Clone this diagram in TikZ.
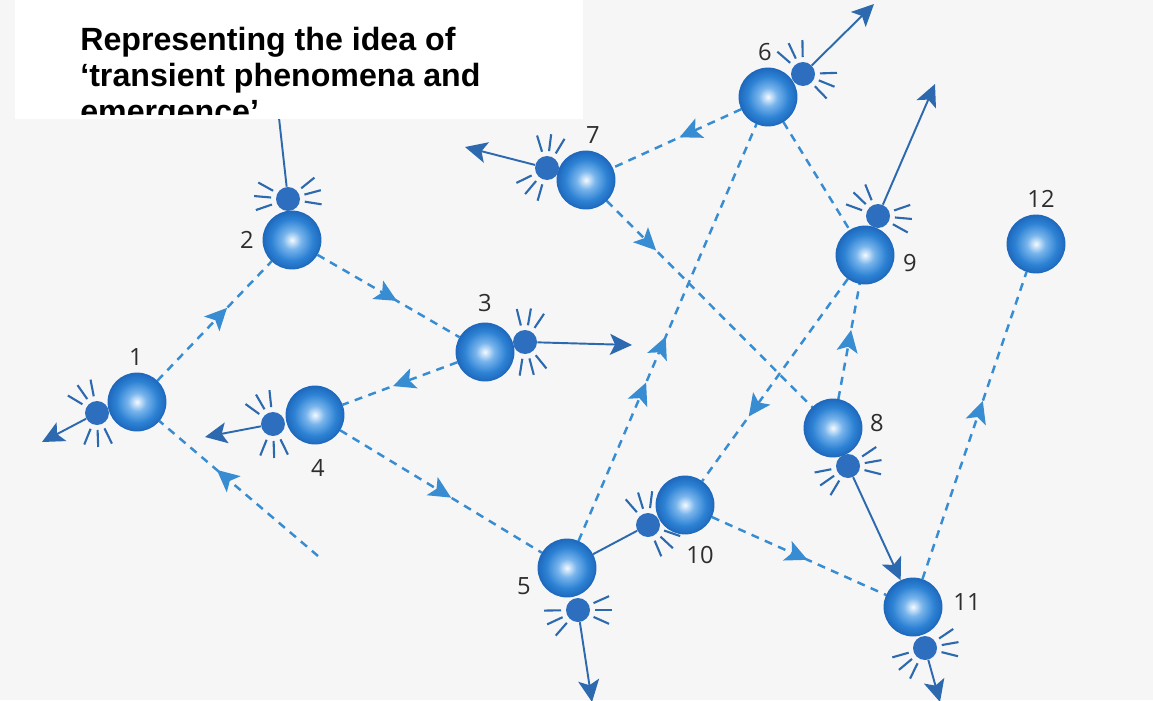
\documentclass[tikz,border=0pt]{standalone}
\usepackage{fontspec}
\newfontfamily\titlefont{Liberation Sans}
\newfontfamily\numfont{Open Sans}
\usetikzlibrary{arrows.meta,decorations.markings}
\pgfdeclarelayer{bg}
\pgfsetlayers{bg,main}

\definecolor{paper}{RGB}{246,246,246}
\definecolor{sphin}{RGB}{245,250,255}
\definecolor{sphmid}{RGB}{120,180,236}
\definecolor{sphout}{RGB}{45,130,212}
\definecolor{sphrim}{RGB}{30,105,190}
\definecolor{dotblue}{RGB}{45,110,190}
\definecolor{flowblue}{RGB}{55,140,210}
\definecolor{beamblue}{RGB}{45,105,175}
\definecolor{numgray}{RGB}{45,45,45}

\pgfdeclareradialshading{sphereshade}{\pgfpoint{0bp}{0bp}}{color(0bp)=(sphin); color(8bp)=(sphmid); color(18bp)=(sphout); color(25bp)=(sphrim); color(50bp)=(sphrim)}

% three short rays round a satellite, centred on a direction (degrees, y up)
\newcommand\sparks[2]{%
  \foreach \da in {-24,0,24}{
    \draw[ray,shift={(#1)}] ({-(#2)-\da}:17) -- ({-(#2)-\da}:34);
  }}

\begin{document}
\begin{tikzpicture}[x=0.02cm,y=-0.02cm,>={Stealth[length=0.44cm,width=0.42cm,inset=0.1cm]},
  sphere/.style={circle,minimum size=1.16cm,inner sep=0,shading=sphereshade,draw=sphrim,line width=0.5pt},
  dot/.style={circle,minimum size=0.48cm,inner sep=0,fill=dotblue},
  num/.style={font=\numfont\fontsize{13.5}{14}\selectfont,text=numgray,inner sep=0},
  title/.style={font=\titlefont\bfseries\fontsize{18.3}{20.5}\selectfont,align=left,inner sep=0},
  flow/.style={flowblue,line width=1.4pt,dash pattern=on 0.16cm off 0.13cm},
  flowat/.style={postaction={decorate},decoration={markings,mark=at position #1 with {\arrow{>}}}},
  flowtwo/.style 2 args={postaction={decorate},decoration={markings,
    mark=at position #1 with {\arrow{>}},mark=at position #2 with {\arrow{>}}}},
  beam/.style={beamblue,line width=1.1pt},
  ray/.style={beamblue,line width=1.2pt}]
  \useasboundingbox (0,0) rectangle (1153,700);

  % particles
  \foreach \k/\x/\y in {1/137/402,2/292/240,3/485/352,4/315/415,5/567/568,6/768/97,
      7/586/180,8/833/428,9/865/255,10/685/505,11/913/607,12/1036/244}
    \node[sphere] (s\k) at (\x,\y) {};
  \foreach \k/\x/\y in {1/97/413,2/288/199,3/525/342,4/273/424,5/578/610,6/803/74,
      7/547/168,8/848/466,9/878/216,10/648/525,11/925/648}
    \node[dot] (d\k) at (\x,\y) {};
  \foreach \k/\x/\y in {1/136/357,2/247/240,3/485/303,4/318/468,5/524/586,6/765/52,
      7/593/135,8/877/423,9/910/263,10/700/555,11/967/602,12/1041/199}
    \node[num] (l\k) at (\x,\y) {\k};

  % free ends
  \coordinate (f1) at (318,556);
  \coordinate (t1) at (42,442);
  \coordinate (t2) at (277,100);
  \coordinate (t3) at (632,345);
  \coordinate (t4) at (205,437);
  \coordinate (t5) at (592,702);
  \coordinate (t6) at (874,4);
  \coordinate (t7) at (465,147);
  \coordinate (t9) at (935,84);
  \coordinate (t11) at (940,702);

  \begin{pgfonlayer}{bg}
    \fill[paper] (0,0) rectangle (1153,700);
    \draw[flow,flowat=0.61] (s1) -- (s2);
    \draw[flow,flowat=0.56] (s2) -- (s3);
    \draw[flow,flowat=0.56] (s3) -- (s4);
    \draw[flow,flowat=0.55] (s4) -- (s5);
    \draw[flow,flowat=0.64] (f1) -- (s1);
    \draw[flow,flowtwo={0.38}{0.49}] (s5) -- (s6);
    \draw[flow,flowat=0.48] (s6) -- (s7);
    \draw[flow] (s6) -- (s9);
    \draw[flow,flowat=0.24] (s7) -- (s8);
    \draw[flow,flowat=0.6] (s8) -- (s9);
    \draw[flow,flowat=0.68] (s9) -- (s10);
    \draw[flow,flowat=0.55] (s10) -- (s11);
    \draw[flow,flowat=0.58] (s11) -- (s12);

    \foreach \k in {1,3,4,5,6,7,9,11}
      \draw[beam,->] (d\k) -- (t\k);
    \draw[beam] (d2) -- (t2);
    \draw[beam] (s5) -- (d10);
    \draw[beam,->] (d8) -- (s11);
  \end{pgfonlayer}

  \foreach \k/\a/\b in {1/125/-88,2/175/15,3/80/-75,4/120/-88,5/205/0,6/115/-22,
      7/83/230,8/215/10,9/136/-5,10/107/-43,11/220/10}{
    \sparks{d\k}{\a}
    \sparks{d\k}{\b}
  }

  % heading
  \fill[white] (15,0) rectangle (583,119);
  \begin{scope}
    \clip (15,0) rectangle (583,114);
    \node[title,anchor=north west] (head) at (80,27)
      {Representing the idea of\\‘transient phenomena and\\emergence’};
  \end{scope}
\end{tikzpicture}
\end{document}
